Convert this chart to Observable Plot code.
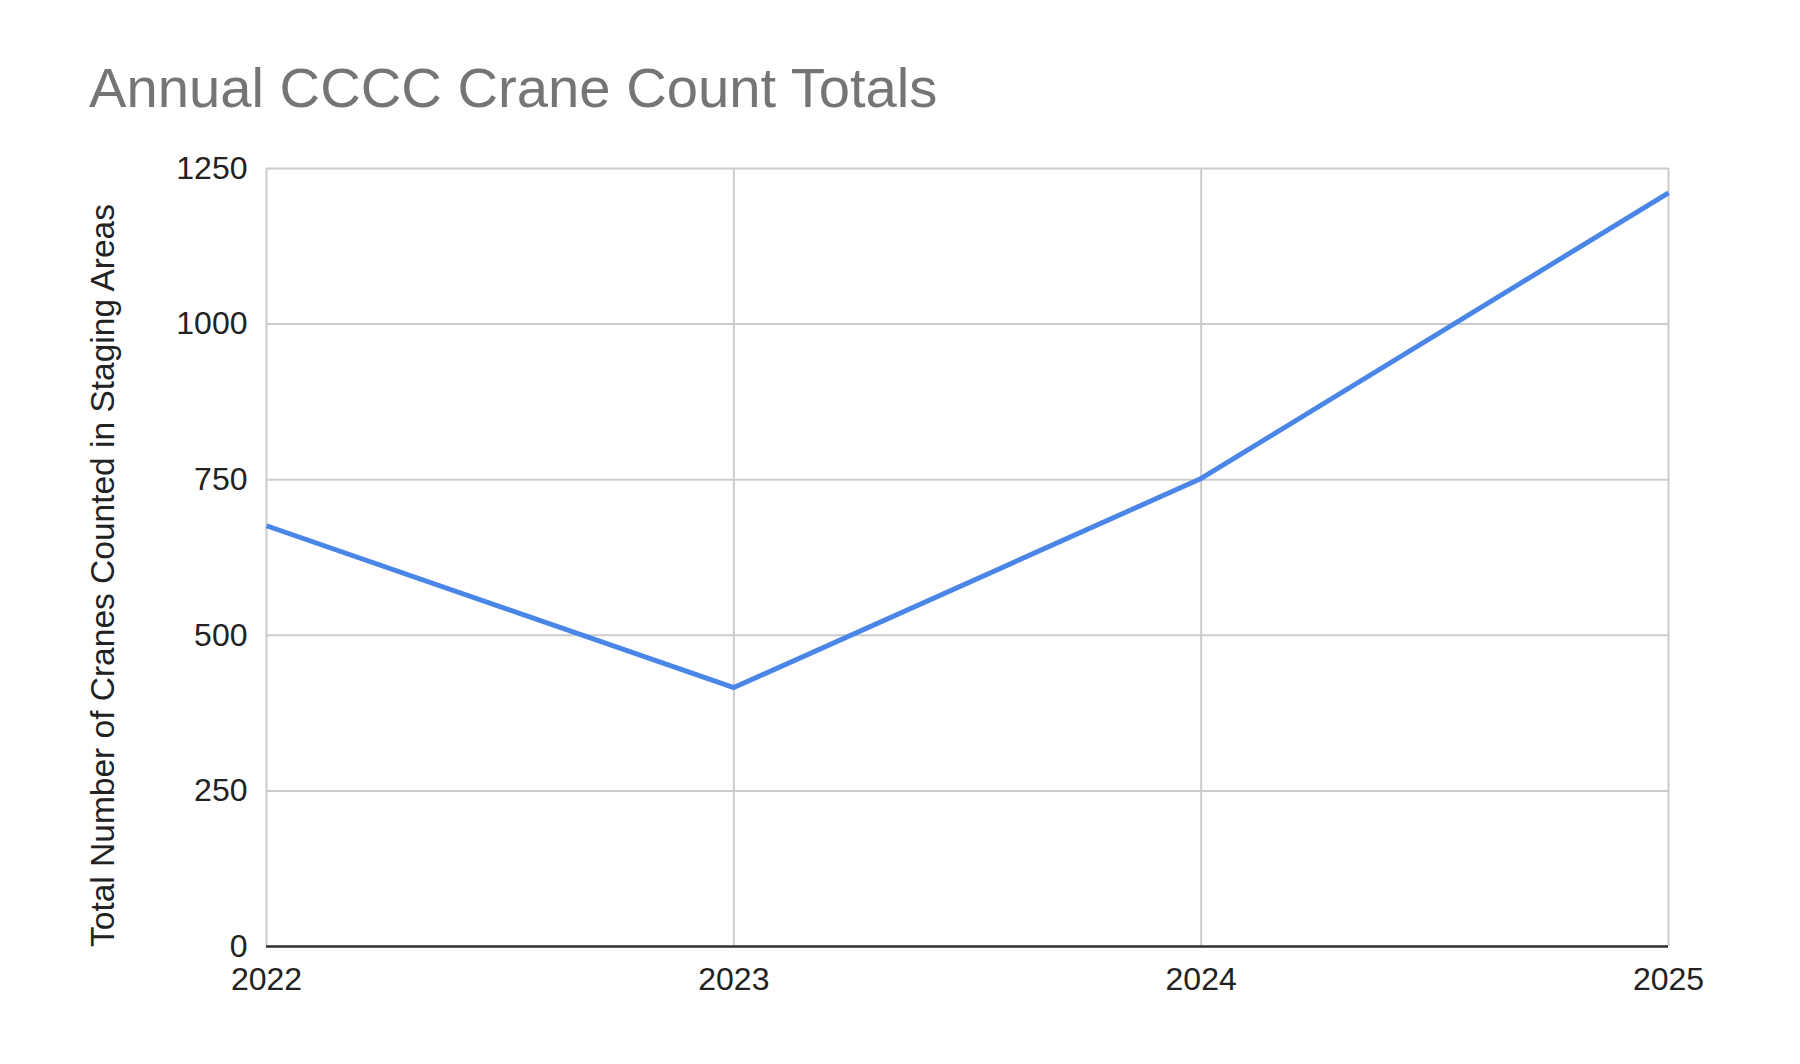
<!DOCTYPE html>
<html>
<head>
<meta charset="utf-8">
<script src="https://cdn.jsdelivr.net/npm/d3@7"></script>
<script src="https://cdn.jsdelivr.net/npm/@observablehq/plot@0.6"></script>
<style>
  html, body { margin: 0; padding: 0; background: #fff; }
  body { width: 1800px; height: 1064px; overflow: hidden; font-family: "Liberation Sans", Arial, sans-serif; }
  #title { box-sizing: border-box; height: 130px; padding: 57px 0 0 89px; font-size: 56.2px; line-height: 62px; color: #757575; white-space: nowrap; }
  #chart svg { display: block; }
</style>
</head>
<body>
<div id="title"></div>
<div id="chart"></div>
<script>
const chartTitle = "Annual CCCC Crane Count Totals";
const yLabel = "Total Number of Cranes Counted in Staging Areas";
const years = [2022, 2023, 2024, 2025];
const counts = [676, 416, 752, 1211];
const yTicks = [0, 250, 500, 750, 1000, 1250];
const xTicks = [2022, 2023, 2024, 2025];

const data = years.map((year, i) => ({year, count: counts[i]}));

document.getElementById("title").textContent = chartTitle;

const font = "'Liberation Sans', Arial, sans-serif";

const chart = Plot.plot({
  width: 1800,
  height: 934,
  marginTop: 38,
  marginBottom: 118,
  marginLeft: 266,
  marginRight: 132,
  style: {fontFamily: font, fontSize: "32px", color: "#222", background: "#fff"},
  x: {type: "linear", domain: [2022, 2025]},
  y: {domain: [0, 1250]},
  marks: [
    Plot.gridX(xTicks, {stroke: "#cccccc", strokeOpacity: 1, strokeWidth: 2}),
    Plot.gridY(yTicks, {stroke: "#cccccc", strokeOpacity: 1, strokeWidth: 2}),
    Plot.axisY(yTicks, {tickSize: 0, tickPadding: 19, fontSize: 32, fill: "#222", label: null, tickFormat: d => String(d)}),
    Plot.axisX(xTicks, {tickSize: 0, tickPadding: 21, fontSize: 32, fill: "#222", label: null, tickFormat: d => String(d)}),
    Plot.ruleY([0], {stroke: "#333", strokeWidth: 2.5}),
    Plot.line(data, {x: "year", y: "count", stroke: "#4a86e8", strokeWidth: 5, strokeLinejoin: "round", strokeLinecap: "butt"}),
    Plot.text([yLabel], {
      text: d => d,
      frameAnchor: "left",
      rotate: -90,
      textAnchor: "middle",
      lineAnchor: "middle",
      dx: -163,
      dy: 18,
      fontSize: 33.5,
      fill: "#222"
    })
  ]
});
document.getElementById("chart").appendChild(chart);
</script>
</body>
</html>
